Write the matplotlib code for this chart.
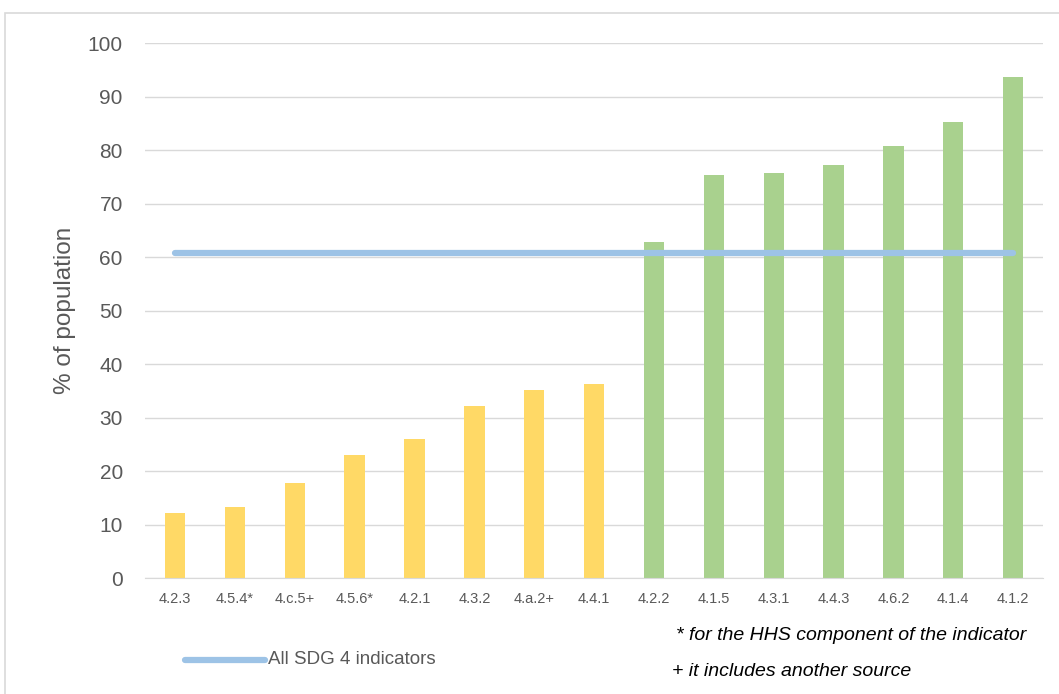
import matplotlib
matplotlib.use("Agg")
import matplotlib.pyplot as plt
from matplotlib.patches import Rectangle

indicators = ["4.2.3", "4.5.4*", "4.c.5+", "4.5.6*", "4.2.1", "4.3.2", "4.a.2+", "4.4.1",
              "4.2.2", "4.1.5", "4.3.1", "4.4.3", "4.6.2", "4.1.4", "4.1.2"]
pct_population = [12.1, 13.3, 17.8, 23.0, 26.0, 32.1, 35.1, 36.3,
                  62.8, 75.3, 75.7, 77.2, 80.7, 85.2, 93.6]
below_average = [True] * 8 + [False] * 7
all_sdg4 = 60.7

yellow = "#FFD966"
green = "#A9D18E"
blue = "#9DC3E6"
grey_text = "#595959"

plt.rcParams['font.family'] = ['Liberation Sans', 'DejaVu Sans']

fig = plt.figure(figsize=(10.59, 6.94), dpi=100)
ax = fig.add_axes([0.137, 0.167, 0.848, 0.771])

x = list(range(len(indicators)))
colors = [yellow if b else green for b in below_average]
ax.bar(x, pct_population, width=0.34, color=colors, zorder=2)
ax.plot([x[0], x[-1]], [all_sdg4, all_sdg4], color=blue, lw=4.5,
        solid_capstyle='round', zorder=3, label="All SDG 4 indicators")

ax.set_xlim(-0.5, len(indicators) - 0.5)
ax.set_ylim(0, 100)
ax.set_yticks(range(0, 101, 10))
ax.grid(axis='y', color="#D9D9D9", lw=1, zorder=0)
ax.set_xticks(x)
ax.set_xticklabels(indicators, fontsize=10.5, color=grey_text)
ax.tick_params(axis='y', labelsize=15, colors=grey_text, length=0, pad=16)
ax.tick_params(axis='x', length=0, pad=10)
for s in ['top', 'right', 'left']:
    ax.spines[s].set_visible(False)
ax.spines['bottom'].set_color("#D9D9D9")
ax.set_ylabel("% of population", fontsize=17.5, color=grey_text)
ax.yaxis.set_label_coords(-(145 - 76) / 898, 0.5)

# legend line and notes under the axis
fig.add_artist(plt.Line2D([185 / 1059, 265 / 1059], [1 - 660 / 694, 1 - 660 / 694],
                          color=blue, lw=4.5, solid_capstyle='round'))
fig.text(268 / 1059, 1 - 660 / 694, "All SDG 4 indicators", fontsize=13.5,
         color=grey_text, va='center')
fig.text(676 / 1059, 1 - 636 / 694, "* for the HHS component of the indicator",
         fontsize=14, style='italic', color='black', va='center')
fig.text(672 / 1059, 1 - 672 / 694, "+ it includes another source",
         fontsize=14, style='italic', color='black', va='center')

# chart border
fig.patches.append(Rectangle((5 / 1059, -0.01), 1.0, 1 - 13 / 694 + 0.01,
                             transform=fig.transFigure, fill=False,
                             edgecolor="#D9D9D9", lw=1.2))

fig.savefig("out.png", dpi=100)
